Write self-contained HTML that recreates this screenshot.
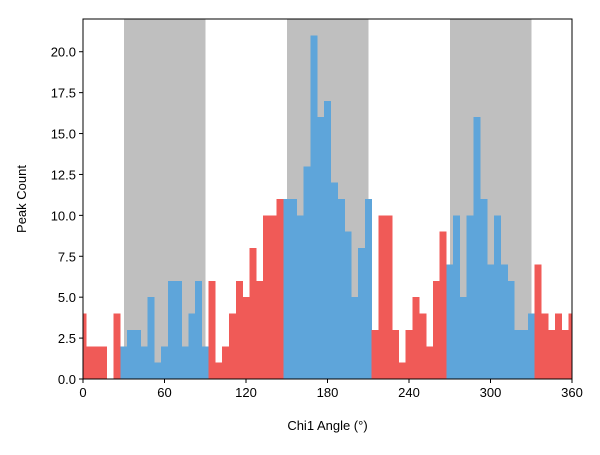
<!DOCTYPE html>
<html><head><meta charset="utf-8"><style>
body{margin:0;background:#fff;}
svg text{font-family:"Liberation Sans","DejaVu Sans",sans-serif;font-size:13px;fill:#000;}
</style></head><body>
<svg id="chart" width="600" height="450" xmlns="http://www.w3.org/2000/svg">
<g id="bands" shape-rendering="crispEdges"></g><g id="bars" shape-rendering="crispEdges"></g><g id="axes"></g>
</svg>
<script>
const binCenters = [0,5,10,15,20,25,30,35,40,45,50,55,60,65,70,75,80,85,90,95,100,105,110,115,120,125,130,135,140,145,150,155,160,165,170,175,180,185,190,195,200,205,210,215,220,225,230,235,240,245,250,255,260,265,270,275,280,285,290,295,300,305,310,315,320,325,330,335,340,345,350,355,360];
const counts = [4,2,2,2,0,4,2,3,3,2,5,1,2,6,6,2,4,6,2,6,1,2,4,6,5,8,6,10,10,11,11,11,10,13,21,16,17,12,11,9,5,8,11,3,10,10,3,1,3,5,4,2,6,9,7,10,5,10,16,11,7,10,7,6,3,3,4,7,4,3,4,3,4];
const shadedRanges = [[30,90],[150,210],[270,330]];
const xTicks = [0,60,120,180,240,300,360];
const yTicks = [0,2.5,5,7.5,10,12.5,15,17.5,20];
const binWidth = 5;
const L=83,R=572,T=19,B=379,yMax=22;
const xs=v=>L+(v/360)*(R-L);
const ys=v=>B-(v/yMax)*(B-T);
const NS="http://www.w3.org/2000/svg";
function mk(parent,tag,attrs){const e=document.createElementNS(NS,tag);for(const k in attrs)e.setAttribute(k,attrs[k]);parent.appendChild(e);return e;}
const bands=document.getElementById('bands'),bars=document.getElementById('bars'),axes=document.getElementById('axes');
shadedRanges.forEach(r=>{
  const e=mk(bands,'rect',{x:xs(r[0]),y:T,width:xs(r[1])-xs(r[0]),height:B-T,fill:'#bfbfbf'});
  
  
});
binCenters.forEach((c,i)=>{
  const a=Math.max(0,c-binWidth/2),b=Math.min(360,c+binWidth/2);
  const blue=shadedRanges.some(r=>c>=r[0]&&c<=r[1]);
  const e=mk(bars,'rect',{x:xs(a),y:ys(counts[i]),width:xs(b)-xs(a)+0.3,height:B-ys(counts[i]),fill:blue?'#5ea5da':'#f05a57'});
  
  
});
const frame=mk(axes,'rect',{x:L,y:T,width:R-L,height:B-T,fill:'none',stroke:'#000','stroke-width':1});


xTicks.forEach(t=>{
  mk(axes,'line',{x1:xs(t),x2:xs(t),y1:B,y2:B+4,stroke:'#000'});
  const tx=mk(axes,'text',{x:xs(t),y:B+18,'text-anchor':'middle'});tx.textContent=t;
  
  
});
yTicks.forEach(t=>{
  mk(axes,'line',{x1:L-4,x2:L,y1:ys(t),y2:ys(t),stroke:'#000'});
  const tx=mk(axes,'text',{x:L-7,y:ys(t)+5,'text-anchor':'end'});tx.textContent=t.toFixed(1);
  
  
});
const xt=mk(axes,'text',{x:(L+R)/2,y:430,'text-anchor':'middle'});xt.textContent='Chi1 Angle (°)';


const yt=mk(axes,'text',{x:0,y:0,'text-anchor':'middle',transform:'translate(26,199) rotate(-90)'});yt.textContent='Peak Count';


</script>
</body></html>
